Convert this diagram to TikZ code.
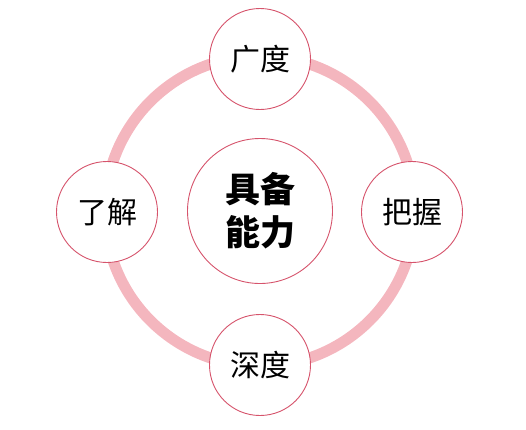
\documentclass[tikz,border=0pt]{standalone}
\usepackage{fontspec}
\newfontfamily\cjk{Noto Sans CJK SC}
\usepackage{xcolor}
\usetikzlibrary{positioning}
\definecolor{ringpink}{HTML}{F4B6BE}
\definecolor{rimred}{HTML}{D6546C}

\begin{document}
\begin{tikzpicture}[
        x=1pt, y=-1pt,
        ring/.style={draw=ringpink, line width=11pt},
        petal/.style={draw=rimred, fill=white, circle, line width=0.9pt, minimum size=101pt, inner sep=0pt, font=\cjk\fontsize{30}{34}\selectfont},
        core/.style={draw=rimred, fill=white, circle, line width=0.9pt, minimum size=145pt, inner sep=0pt, align=center, font=\cjk\bfseries\fontsize{35}{43}\selectfont}
    ]
    \useasboundingbox (0,0) rectangle (526,429);
    % Ring
    \coordinate (o) at (260,211);
    \draw[ring] (o) circle[radius=155];

    % Nodes
    \node[core] (ability) at (o) {具备\\能力};
    \node[petal] (breadth) at (260,59)  {广度};
    \node[petal] (grasp)   at (412,212) {把握};
    \node[petal] (depth)   at (260,365) {深度};
    \node[petal] (know)    at (107,212) {了解};
\end{tikzpicture}
\end{document}
